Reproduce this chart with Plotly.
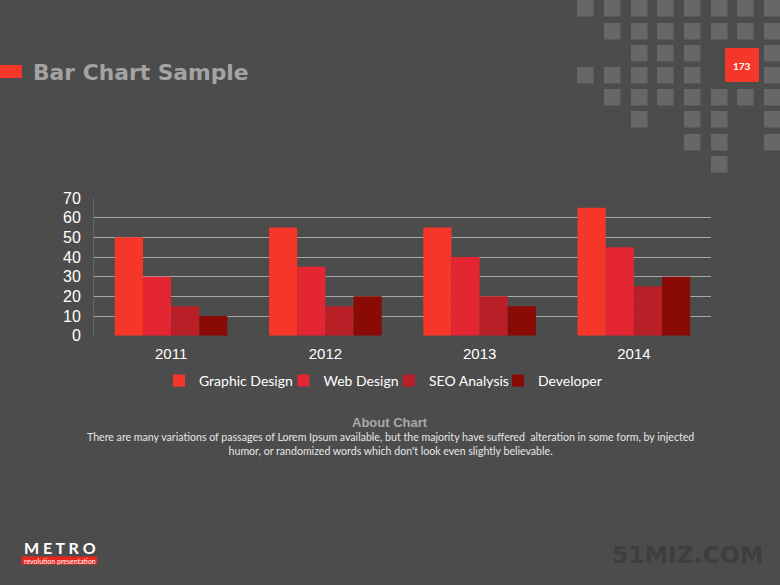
import plotly.graph_objects as go

W, H = 780, 585

categories = ["2011", "2012", "2013", "2014"]
graphic_design = [50, 55, 55, 65]
web_design = [30, 35, 40, 45]
seo_analysis = [15, 15, 20, 25]
developer = [10, 20, 15, 30]
y_ticks = [0, 10, 20, 30, 40, 50, 60, 70]

series = [
    ("Graphic Design", graphic_design, "#F7362A"),
    ("Web Design", web_design, "#E32631"),
    ("SEO Analysis", seo_analysis, "#B91F26"),
    ("Developer", developer, "#8A0B05"),
]

BG = "#4c4c4c"
SQ = "#676767"

def px(x):
    return x / W

def py(y):
    return 1 - y / H

# left text start of each legend entry (pixels)
legend_text_x = [199, 323.5, 429, 538]
legend_names = ["legend", "legend2", "legend3", "legend4"]

fig = go.Figure()
for (name, vals, col), lg in zip(series, legend_names):
    fig.add_trace(go.Bar(x=categories, y=vals, name=name, legend=lg,
                         marker=dict(color=col, line=dict(width=0))))

shapes = []
col_x = [577, 604, 631, 657, 684, 711, 737, 764]
row_y = [0, 23, 45, 67, 89, 111, 134, 156]
pattern = [
    [0, 1, 2, 3, 4, 5, 6, 7],
    [1, 2, 3, 4, 5, 6, 7],
    [2, 3, 4, 7],
    [0, 1, 2, 3, 4, 7],
    [1, 2, 3, 4, 5, 6, 7],
    [2, 4, 5, 7],
    [4, 5, 7],
    [5],
]
for r, cols in enumerate(pattern):
    for c in cols:
        x0 = col_x[c]
        y0 = row_y[r]
        shapes.append(dict(type="rect", xref="paper", yref="paper",
                           x0=px(x0), x1=px(x0 + 16.5), y0=py(y0), y1=py(y0 + 16.5),
                           fillcolor=SQ, line=dict(width=0), layer="below"))
shapes.append(dict(type="rect", xref="paper", yref="paper",
                   x0=px(725), x1=px(759), y0=py(48), y1=py(82),
                   fillcolor="#F7362A", line=dict(width=0)))
shapes.append(dict(type="rect", xref="paper", yref="paper",
                   x0=px(0), x1=px(22), y0=py(65), y1=py(78),
                   fillcolor="#F7362A", line=dict(width=0)))
shapes.append(dict(type="rect", xref="paper", yref="paper",
                   x0=px(21.5), x1=px(97), y0=py(556.5), y1=py(564.5),
                   fillcolor="#E8261E", line=dict(width=0)))

def ann(**kw):
    d = dict(xref="paper", yref="paper", showarrow=False)
    d.update(kw)
    return d

annotations = [
    ann(text="<b>Bar Chart Sample</b>", x=px(31), y=py(72), xanchor="left", yanchor="middle",
        font=dict(family="DejaVu Sans, Liberation Sans", size=21.8, color="#a3a3a3")),
    ann(text="<b>173</b>", x=px(742), y=py(66), xanchor="center", yanchor="middle",
        font=dict(family="Lato, Arial", size=10, color="#ffffff")),
    ann(text="<b>About Chart</b>", x=0.5, y=py(422), xanchor="center", yanchor="middle",
        font=dict(family="Liberation Sans, Arial", size=13, color="#a8a8a8")),
    ann(text="There are many variations of passages of Lorem Ipsum available, but the majority have suffered  alteration in some form, by injected<br>humor, or randomized words which don't look even slightly believable.",
        x=0.5, y=py(444), xanchor="center", yanchor="middle", align="center",
        font=dict(family="Lato", size=10.6, color="#e6e6e6")),
    ann(text="<b>M E T R O</b>", x=px(59.5), y=py(547), xanchor="center", yanchor="middle",
        font=dict(family="Lato, Arial", size=16, color="#ffffff")),
    ann(text="revolution presentation", x=px(59.5), y=py(560.5), xanchor="center", yanchor="middle",
        font=dict(family="Lato, Arial", size=7, color="#ffffff")),
    ann(text="<b>51MIZ.COM</b>", x=px(687), y=py(555), xanchor="center", yanchor="middle",
        font=dict(family="DejaVu Sans, Liberation Sans", size=23.5, color="#3e3e3e")),
]

layout_kw = {}
for lg, tx in zip(legend_names, legend_text_x):
    layout_kw[lg] = dict(orientation="h", x=px(tx - 40), xanchor="left", y=py(381), yanchor="middle",
                         font=dict(family="Lato, Carlito, Calibri", size=14, color="#ffffff"),
                         bgcolor="rgba(0,0,0,0)", borderwidth=0, itemwidth=30)

fig.update_layout(
    template="none",
    width=W, height=H,
    paper_bgcolor=BG, plot_bgcolor="rgba(0,0,0,0)",
    margin=dict(l=0, r=0, t=0, b=0, pad=0, autoexpand=False),
    barmode="group", bargap=0.27, bargroupgap=0,
    shapes=shapes, annotations=annotations,
    showlegend=True,
    xaxis=dict(domain=[px(94), px(711)], anchor="y", type="category", automargin=False,
               showline=True, linecolor=BG, linewidth=2,
               tickfont=dict(family="Liberation Sans, Arial", size=15, color="#ffffff"),
               ticks="", ticklabelstandoff=3, showgrid=False),
    yaxis=dict(domain=[py(335.7), py(198)], range=[0, 70], tickvals=y_ticks, automargin=False,
               showline=True, linecolor="#666666", linewidth=1,
               gridcolor="#a8a8a8", gridwidth=1, zeroline=False,
               ticks="", ticklabelstandoff=9,
               tickfont=dict(family="Liberation Sans, Arial", size=16, color="#ffffff")),
    **layout_kw,
)

fig.write_html("out.html", config={"displayModeBar": False},
               post_script="document.body.style.margin='0';document.body.style.background='#4c4c4c';")
